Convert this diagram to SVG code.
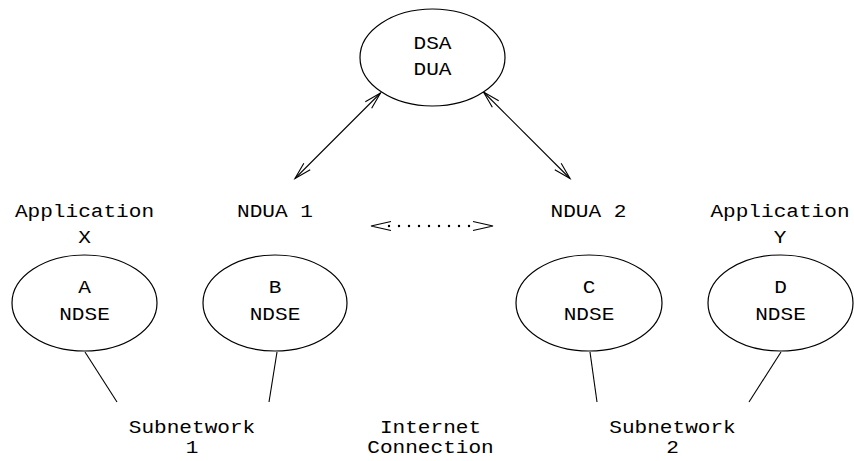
<svg xmlns="http://www.w3.org/2000/svg" width="854" height="461" viewBox="0 0 854 461">
<style>
.n{fill:#fff;stroke:#000;stroke-width:1.2}
.t{font-family:"Liberation Mono","Courier New",monospace;font-size:19px;fill:#000;text-anchor:middle}
.c{fill:none;stroke:#000;stroke-width:1.1}
.d{fill:none;stroke:#000;stroke-width:2.4;stroke-linecap:round;stroke-dasharray:0 10}
</style>
<defs>
<marker id="ah" viewBox="-19 -7 21 14" refX="0" refY="0" markerWidth="21" markerHeight="14" markerUnits="userSpaceOnUse" orient="auto-start-reverse">
<path d="M-17,-4.5 L0,0 L-17,4.5" fill="none" stroke="#000" stroke-width="1.1"/>
</marker>
<marker id="dh" viewBox="-22 -7 24 14" refX="0" refY="0" markerWidth="24" markerHeight="14" markerUnits="userSpaceOnUse" orient="auto-start-reverse">
<path d="M-20,-4.5 L0,0 L-20,4.5" fill="none" stroke="#000" stroke-width="1.1"/>
</marker>
</defs>
<g id="connectors">
<line class="c" x1="380.5" y1="93" x2="295" y2="178.5" marker-start="url(#ah)" marker-end="url(#ah)"/>
<line class="c" x1="483.5" y1="92" x2="570" y2="178.5" marker-start="url(#ah)" marker-end="url(#ah)"/>
<line class="c" x1="85" y1="352" x2="117" y2="402"/>
<line class="c" x1="277" y1="352" x2="269" y2="402"/>
<line class="c" x1="590" y1="352" x2="597" y2="402"/>
<line class="c" x1="781" y1="352" x2="749" y2="402"/>
<line class="d" x1="389" y1="226" x2="479" y2="226"/>
<line class="c" x1="392" y1="226" x2="371" y2="226" stroke-opacity="0" marker-end="url(#dh)"/>
<line class="c" x1="472" y1="226" x2="493" y2="226" stroke-opacity="0" marker-end="url(#dh)"/>
</g>
<g id="dsa">
<ellipse class="n" cx="432.5" cy="57.5" rx="72.5" ry="48.5"/>
<text class="t" transform="translate(432.5,49) scale(1.11,1)">DSA</text>
<text class="t" transform="translate(432.5,75) scale(1.11,1)">DUA</text>
</g>
<g id="appX">
<text class="t" transform="translate(84.5,217) scale(1.11,1)">Application</text>
<text class="t" transform="translate(84.5,243) scale(1.11,1)">X</text>
</g>
<g id="ndua1">
<text class="t" transform="translate(275,217) scale(1.11,1)">NDUA 1</text>
</g>
<g id="ndua2">
<text class="t" transform="translate(588.5,217) scale(1.11,1)">NDUA 2</text>
</g>
<g id="appY">
<text class="t" transform="translate(780,217) scale(1.11,1)">Application</text>
<text class="t" transform="translate(780,243) scale(1.11,1)">Y</text>
</g>
<g id="nodeA">
<ellipse class="n" cx="84.5" cy="303" rx="72.5" ry="48"/>
<text class="t" transform="translate(84.5,293) scale(1.11,1)">A</text>
<text class="t" transform="translate(84.5,320) scale(1.11,1)">NDSE</text>
</g>
<g id="nodeB">
<ellipse class="n" cx="275" cy="303" rx="72" ry="48"/>
<text class="t" transform="translate(275,293) scale(1.11,1)">B</text>
<text class="t" transform="translate(275,320) scale(1.11,1)">NDSE</text>
</g>
<g id="nodeC">
<ellipse class="n" cx="589" cy="303" rx="73" ry="48"/>
<text class="t" transform="translate(589,293) scale(1.11,1)">C</text>
<text class="t" transform="translate(589,320) scale(1.11,1)">NDSE</text>
</g>
<g id="nodeD">
<ellipse class="n" cx="780.5" cy="303" rx="72.5" ry="48"/>
<text class="t" transform="translate(780.5,293) scale(1.11,1)">D</text>
<text class="t" transform="translate(780.5,320) scale(1.11,1)">NDSE</text>
</g>
<g id="subnet1">
<text class="t" transform="translate(192,432.5) scale(1.11,1)">Subnetwork</text>
<text class="t" transform="translate(192,452.5) scale(1.11,1)">1</text>
</g>
<g id="internet">
<text class="t" transform="translate(430.5,432.5) scale(1.11,1)">Internet</text>
<text class="t" transform="translate(430.5,452.5) scale(1.11,1)">Connection</text>
</g>
<g id="subnet2">
<text class="t" transform="translate(672.5,432.5) scale(1.11,1)">Subnetwork</text>
<text class="t" transform="translate(672.5,452.5) scale(1.11,1)">2</text>
</g>
</svg>
